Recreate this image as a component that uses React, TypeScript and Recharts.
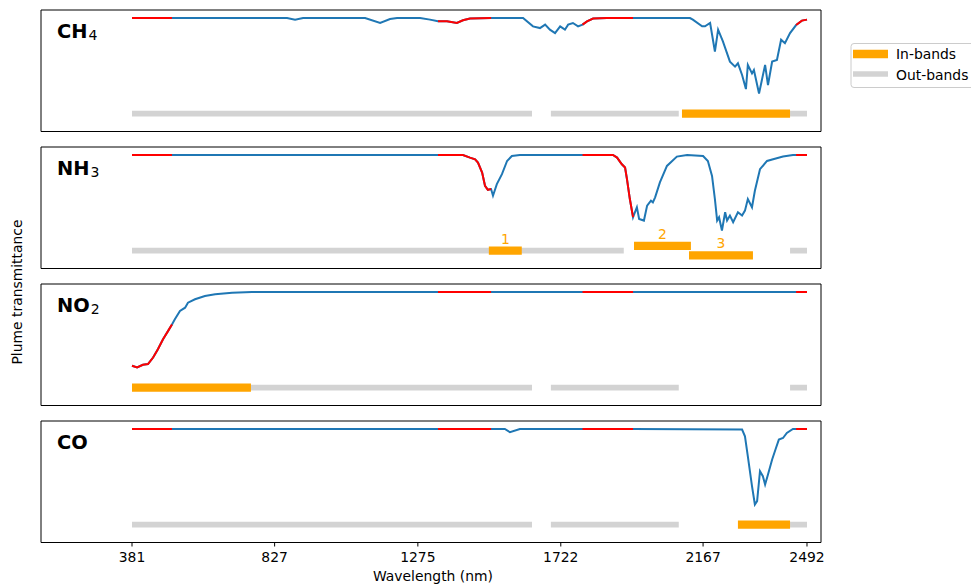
import React from "react";
import { LineChart, Line, XAxis, YAxis, ReferenceArea, ReferenceDot } from "recharts";

const BLUE = "#1f77b4";
const RED = "#ff0000";
const ORANGE = "#ffa500";
const GRAY = "#d3d3d3";
const FONT = "'DejaVu Sans', sans-serif";

const X_DOMAIN: [number, number] = [96.4, 2535.8];
const X_TICKS = [381, 827, 1275, 1722, 2167, 2492];

// water-vapour / edge regions drawn in red
const BAD_BANDS = [
  [381, 506],
  [1338, 1504],
  [1790, 1948],
  [2458, 2492],
];

const OUT_BANDS = [
  [381, 1632],
  [1691, 2091],
  [2439, 2492],
];
const NH3_OUT_BANDS = [
  [381, 1919],
  [2439, 2492],
];

const CH4_WL = [
  381, 506, 866, 891, 916, 1110, 1157, 1188, 1210, 1282,
  1313, 1338, 1366, 1397, 1416, 1438, 1504, 1604, 1635, 1657,
  1673, 1688, 1704, 1720, 1735, 1745, 1760, 1776, 1790, 1804,
  1823, 1866, 1948, 2126, 2135, 2164, 2173, 2189, 2204, 2214,
  2229, 2251, 2267, 2276, 2289, 2301, 2307, 2320, 2326, 2342,
  2361, 2370, 2383, 2398, 2411, 2423, 2439, 2458, 2476, 2492,
];
const CH4_T = [
  1, 1, 1, 0.9968, 1, 1, 0.99, 0.998, 1, 1,
  0.9968, 0.9934, 0.9934, 0.99, 0.9954, 0.9988, 1, 1, 0.9834, 0.98,
  0.9868, 0.9768, 0.97, 0.9834, 0.9768, 0.9868, 0.99, 0.9834, 0.9868, 0.9934,
  0.9988, 1, 1, 1, 0.9968, 0.9834, 0.9834, 0.99, 0.9334, 0.9768,
  0.9534, 0.9134, 0.9034, 0.91, 0.8868, 0.8588, 0.9068, 0.89, 0.8968, 0.85,
  0.9068, 0.8668, 0.9134, 0.9168, 0.9568, 0.95, 0.97, 0.986, 0.9948, 0.9968,
];
const CH4_IN = [[2101, 2439]];

const NH3_WL = [
  381, 506, 1338, 1416, 1438, 1454, 1463, 1476, 1485, 1494,
  1504, 1510, 1522, 1538, 1554, 1569, 1594, 1790, 1885, 1898,
  1913, 1923, 1929, 1938, 1948, 1960, 1967, 1982, 1992, 2004,
  2010, 2017, 2032, 2054, 2085, 2117, 2167, 2182, 2195, 2204,
  2211, 2217, 2226, 2236, 2242, 2251, 2261, 2276, 2289, 2298,
  2307, 2320, 2329, 2345, 2367, 2386, 2417, 2448, 2458, 2492,
];
const NH3_T = [
  1, 1, 1, 1, 0.9897, 0.983, 0.97, 0.9305, 0.8776, 0.8618,
  0.8646, 0.8382, 0.8844, 0.9238, 0.9763, 0.9961, 1, 1, 1, 0.9897,
  0.9633, 0.9503, 0.9041, 0.8251, 0.7529, 0.7924, 0.7462, 0.7395, 0.7987, 0.8184,
  0.8121, 0.8319, 0.8911, 0.9566, 0.9937, 1, 0.9961, 0.9763, 0.917, 0.8251,
  0.7395, 0.7529, 0.7, 0.7727, 0.7395, 0.7592, 0.7332, 0.7727, 0.7592, 0.779,
  0.8251, 0.7924, 0.858, 0.9436, 0.9763, 0.983, 0.9937, 1, 1, 1,
];
const NH3_IN = [
  [1497, 1600],
  [1951, 2129],
  [2123, 2323],
];
const NH3_IN_ROWS = [0, -1, 1];
const NH3_IN_LABELS = ["1", "2", "3"];

const NO2_WL = [
  381, 397, 415, 431, 447, 462, 478, 494, 506, 515,
  531, 547, 556, 578, 609, 641, 694, 756, 1338, 1504,
  1790, 1948, 2458, 2492,
];
const NO2_T = [
  0.9267, 0.925, 0.9277, 0.9284, 0.9349, 0.9432, 0.9531, 0.9614, 0.9678, 0.9729,
  0.9812, 0.9844, 0.9894, 0.9928, 0.996, 0.9977, 0.9993, 1, 1, 1,
  1, 1, 1, 1,
];
const NO2_IN = [[381, 753]];

const CO_WL = [
  381, 506, 1338, 1504, 1547, 1563, 1594, 1790, 1948, 2289,
  2298, 2307, 2320, 2329, 2336, 2345, 2354, 2361, 2370, 2383,
  2395, 2404, 2417, 2429, 2448, 2458, 2492,
];
const CO_T = [
  1, 1, 1, 1, 1, 0.9935, 1, 1, 1, 0.9988,
  0.9855, 0.9458, 0.8863, 0.85, 0.8566, 0.9161, 0.9062, 0.8897, 0.9095, 0.9393,
  0.9623, 0.979, 0.9821, 0.9921, 1, 1, 1,
];
const CO_IN = [[2276, 2439]];

type Gas = {
  name: string;
  sub?: string;
  wl: number[];
  t: number[];
  outBands: number[][];
  inBands: number[][];
  inRows?: number[];
  inLabels?: string[];
};

const GASES: Gas[] = [
  { name: "CH", sub: "4", wl: CH4_WL, t: CH4_T, outBands: OUT_BANDS, inBands: CH4_IN },
  {
    name: "NH",
    sub: "3",
    wl: NH3_WL,
    t: NH3_T,
    outBands: NH3_OUT_BANDS,
    inBands: NH3_IN,
    inRows: NH3_IN_ROWS,
    inLabels: NH3_IN_LABELS,
  },
  { name: "NO", sub: "2", wl: NO2_WL, t: NO2_T, outBands: OUT_BANDS, inBands: NO2_IN },
  { name: "CO", wl: CO_WL, t: CO_T, outBands: OUT_BANDS, inBands: CO_IN },
];

const PANEL_TOPS = [9.5, 146.5, 283.5, 420.7];
const PLOT_H = 121.5;
const AXIS_H = 30;
const PAD = 3;

function Panel({ gas, top, showAxis }: { gas: Gas; top: number; showAxis: boolean }) {
  const span = 1 - Math.min(...gas.t);
  const hi = 1 + 0.106 * span;
  const lo = hi - (PLOT_H / 75.5) * span;
  const base = 1 - 1.267 * span;

  const points = gas.wl.map((w, i) => ({ wl: w, t: gas.t[i] }));
  // one red piece per flagged band so pieces never join across gaps
  const redPieces = BAD_BANDS.map(([a, b]) => points.filter((p) => p.wl >= a && p.wl <= b));
  const level = (i: number) => base - (gas.inRows ? gas.inRows[i] : 0) * 0.063 * span;

  return (
    <div style={{ position: "absolute", left: 0, top: top - PAD }}>
      <LineChart
        width={971}
        height={PLOT_H + PAD + (showAxis ? AXIS_H : PAD)}
        margin={{ top: PAD, right: 150, bottom: showAxis ? 0 : PAD, left: 41 }}
      >
        <XAxis
          type="number"
          dataKey="wl"
          domain={X_DOMAIN}
          allowDataOverflow
          hide={!showAxis}
          ticks={X_TICKS}
          interval={0}
          axisLine={false}
          tickLine={{ stroke: "#000" }}
          tickSize={4}
          tickMargin={6}
          height={AXIS_H}
          tick={{ fill: "#000", fontSize: 13.9, fontFamily: FONT }}
        />
        <YAxis type="number" domain={[lo, hi]} allowDataOverflow hide />
        {gas.outBands.map(([a, b], i) => (
          <Line
            key={`out-${i}`}
            data={[
              { wl: a, t: base },
              { wl: b, t: base },
            ]}
            dataKey="t"
            stroke={GRAY}
            strokeWidth={5.6}
            dot={false}
            activeDot={false}
            isAnimationActive={false}
          />
        ))}
        {gas.inBands.map(([a, b], i) => (
          <Line
            key={`in-${i}`}
            data={[
              { wl: a, t: level(i) },
              { wl: b, t: level(i) },
            ]}
            dataKey="t"
            stroke={ORANGE}
            strokeWidth={8.3}
            dot={false}
            activeDot={false}
            isAnimationActive={false}
          />
        ))}
        <Line
          data={points}
          dataKey="t"
          stroke={BLUE}
          strokeWidth={2}
          dot={false}
          activeDot={false}
          isAnimationActive={false}
        />
        {redPieces.map((piece, i) => (
          <Line
            key={`red-${i}`}
            data={piece}
            dataKey="t"
            stroke={RED}
            strokeWidth={2}
            dot={false}
            activeDot={false}
            isAnimationActive={false}
          />
        ))}
        {gas.inLabels &&
          gas.inBands.map(([a, b], i) => (
            <ReferenceDot
              key={`lbl-${i}`}
              x={(a + b) / 2}
              y={level(i)}
              r={1}
              fill="none"
              stroke="none"
              label={{
                value: gas.inLabels![i],
                position: "top",
                offset: 6,
                fill: ORANGE,
                fontSize: 13.9,
                fontFamily: FONT,
              }}
            />
          ))}
        <ReferenceArea
          x1={X_DOMAIN[0]}
          x2={X_DOMAIN[1]}
          y1={lo}
          y2={hi}
          fill="none"
          stroke="#000"
          strokeWidth={1}
          ifOverflow="visible"
        />
      </LineChart>
    </div>
  );
}

export default function App() {
  return (
    <div
      style={{
        position: "absolute",
        left: 0,
        top: 0,
        width: 971,
        height: 584,
        overflow: "hidden",
        background: "#fff",
        fontFamily: FONT,
      }}
    >
      {GASES.map((g, i) => (
        <Panel key={g.name} gas={g} top={PANEL_TOPS[i]} showAxis={i === GASES.length - 1} />
      ))}
      <svg
        width={971}
        height={584}
        style={{ position: "absolute", left: 0, top: 0, pointerEvents: "none" }}
        fontFamily={FONT}
      >
        {GASES.map((g, i) => (
          <text key={g.name} x={57} y={PANEL_TOPS[i] + 28} fontSize={19.4} fontWeight="bold" fill="#000">
            {g.name}
            {g.sub && (
              <tspan fontSize={14} fontWeight="normal" dx={1} dy={2}>
                {g.sub}
              </tspan>
            )}
          </text>
        ))}
        <text x={433} y={580.5} textAnchor="middle" fontSize={13.9} fill="#000">
          Wavelength (nm)
        </text>
        <text
          transform="rotate(-90)"
          x={-292}
          y={22}
          textAnchor="middle"
          fontSize={13.9}
          fill="#000"
        >
          Plume transmittance
        </text>
        <g>
          <rect x={851} y={43.5} width={140} height={44} rx={3} fill="#fff" fillOpacity={0.8} stroke="#cccccc" />
          <line x1={853} x2={888} y1={54} y2={54} stroke={ORANGE} strokeWidth={8.3} />
          <line x1={853} x2={888} y1={74} y2={74} stroke={GRAY} strokeWidth={5.6} />
          <text x={896} y={59} fontSize={13.9} fill="#000">
            In-bands
          </text>
          <text x={896} y={79.5} fontSize={13.9} fill="#000">
            Out-bands
          </text>
        </g>
      </svg>
    </div>
  );
}
